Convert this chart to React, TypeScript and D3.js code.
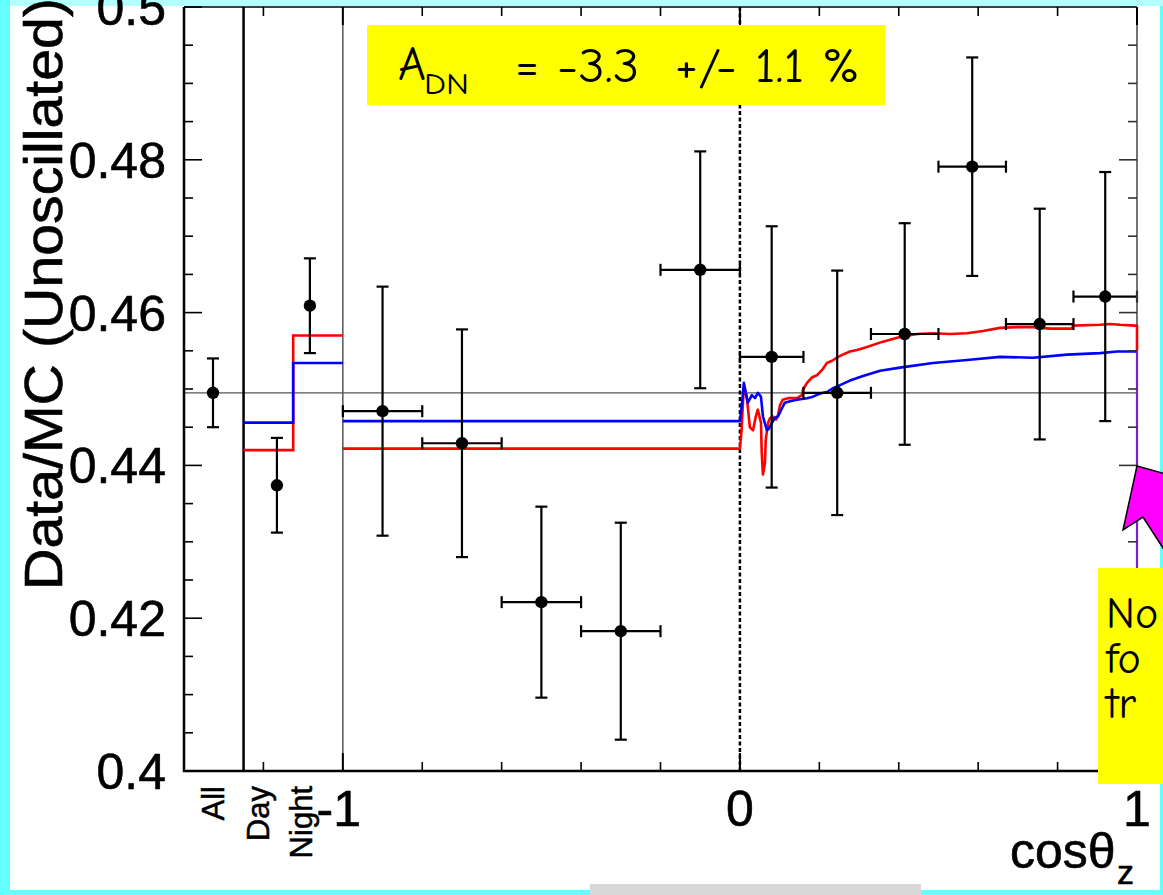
import React from 'react';
import * as d3 from 'd3';

// ---------- data ----------
const yTickValues = [0.4, 0.42, 0.44, 0.46, 0.48, 0.5];
const xTickLabels = [-1, 0, 1];
const xMinorTicks = [-1.2, -0.8, -0.6, -0.4, -0.2, 0.2, 0.4, 0.6, 0.8];

const summaryLabels = ['All', 'Day', 'Night'];
const summaryLabelX = [-1.327, -1.213, -1.105];
const summaryX = [-1.327, -1.166, -1.083];
const summaryY = [0.4495, 0.4374, 0.4609];
const summaryErr = [0.0045, 0.0062, 0.0062];

const binLo = [-1, -0.8, -0.6, -0.4, -0.2, 0, 0.16, 0.33, 0.5, 0.67, 0.84];
const binHi = [-0.8, -0.6, -0.4, -0.2, 0, 0.16, 0.33, 0.5, 0.67, 0.84, 1];
const binX = [-0.9, -0.7, -0.5, -0.3, -0.1, 0.08, 0.245, 0.415, 0.585, 0.755, 0.92];
const binY = [0.4471, 0.4429, 0.4221, 0.4183, 0.4656, 0.4542, 0.4495, 0.4572, 0.4791, 0.4585, 0.4621];
const binErr = [0.0163, 0.0149, 0.0125, 0.0142, 0.0155, 0.0171, 0.016, 0.0145, 0.0143, 0.0151, 0.0163];

const dnEdges = [-1.25, -1.125, -1.0];
const redDN = [0.442, 0.457];
const blueDN = [0.4456, 0.4534];
const dayRed = 0.4422;
const dayBlue = 0.4458;
const allMean = 0.4495;
const sectionLines = [-1.25, -1.0];

const nightRed: [number, number][] = [
  [0, 0.4422], [0.004, 0.4445], [0.010, 0.4505], [0.018, 0.4486], [0.025, 0.445], [0.033, 0.4446],
  [0.040, 0.4464], [0.045, 0.4473], [0.053, 0.4456], [0.055, 0.4416], [0.058, 0.4388], [0.063, 0.4403],
  [0.065, 0.4433], [0.071, 0.4456], [0.076, 0.4462], [0.083, 0.4464], [0.091, 0.446], [0.096, 0.4466],
  [0.101, 0.4479], [0.108, 0.4486], [0.121, 0.4488], [0.144, 0.4488], [0.156, 0.4492], [0.159, 0.4499],
  [0.169, 0.4508], [0.181, 0.4515], [0.194, 0.4518], [0.207, 0.4525], [0.219, 0.4534], [0.232, 0.4537],
  [0.244, 0.4541], [0.259, 0.4545], [0.277, 0.4549], [0.295, 0.4551], [0.320, 0.4555], [0.360, 0.4562],
  [0.403, 0.4568], [0.446, 0.4572], [0.486, 0.4573], [0.529, 0.4572], [0.572, 0.4573], [0.612, 0.4576],
  [0.655, 0.458], [0.698, 0.4581], [0.738, 0.4581], [0.781, 0.4579], [0.836, 0.4579], [0.839, 0.4583],
  [0.907, 0.4584], [0.932, 0.4585], [0.957, 0.4584], [0.995, 0.4583], [1.0, 0.4583], [1.0, 0.4549],
];

const nightBlue: [number, number][] = [
  [0, 0.4458], [0.005, 0.448], [0.010, 0.4508], [0.020, 0.4482], [0.030, 0.4492], [0.038, 0.4488],
  [0.045, 0.4495], [0.053, 0.449], [0.058, 0.4464], [0.068, 0.4446], [0.073, 0.4448], [0.081, 0.4456],
  [0.088, 0.4462], [0.096, 0.4464], [0.106, 0.4475], [0.113, 0.4482], [0.126, 0.4484], [0.144, 0.4486],
  [0.156, 0.4487], [0.169, 0.4488], [0.184, 0.449], [0.202, 0.4494], [0.219, 0.4496], [0.234, 0.4501],
  [0.252, 0.4505], [0.277, 0.4511], [0.310, 0.4517], [0.353, 0.4524], [0.403, 0.4528], [0.486, 0.4534],
  [0.572, 0.4538], [0.655, 0.4542], [0.738, 0.4541], [0.824, 0.4545], [0.907, 0.4547], [0.950, 0.4549],
  [1.0, 0.4549],
];

const sideNote = ['No', 'fo', 'tr'];

// ---------- layout ----------
const W = 1163;
const H = 895;
const L = 184, R = 1137, T = 7, B = 771;
const sans = "'Liberation Sans', Arial, Helvetica, sans-serif";
const comic = "'Comic Sans MS', 'Comic Neue', 'DejaVu Sans', sans-serif";

export default function App() {
  const x = d3.scaleLinear().domain([-1.4, 1]).range([L, R]);
  const y = d3.scaleLinear().domain([0.4, 0.5]).range([B, T]);
  const line = d3.line<[number, number]>().x(d => x(d[0])).y(d => y(d[1]));

  const redStep: [number, number][] = [
    [dnEdges[0], redDN[0]], [dnEdges[1], redDN[0]], [dnEdges[1], redDN[1]], [dnEdges[2], redDN[1]],
  ];
  const blueStep: [number, number][] = [
    [dnEdges[0], blueDN[0]], [dnEdges[1], blueDN[0]], [dnEdges[1], blueDN[1]], [dnEdges[2], blueDN[1]],
  ];
  const redMain: [number, number][] = [[-1, dayRed], ...nightRed];
  const blueMain: [number, number][] = [[-1, dayBlue], ...nightBlue];

  const yMinor = d3.range(0, 21).map(i => 0.4 + i * 0.005);
  const cap = 6;

  return (
    <svg width={W} height={H} style={{ position: 'absolute', left: 0, top: 0, display: 'block' }}>
      {/* background */}
      <rect x={0} y={0} width={W} height={H} fill="#66ffff" />
      <rect x={10} y={0} width={W - 10} height={6} fill="#b3ffff" />
      <rect x={10} y={6} width={1150} height={884} fill="#ffffff" />
      <rect x={590} y={884} width={331} height={11} fill="#d8d8d8" />

      {/* reference lines */}
      <line x1={L} x2={R} y1={y(allMean)} y2={y(allMean)} stroke="#555" strokeWidth={1.3} />
      <line x1={x(sectionLines[0])} x2={x(sectionLines[0])} y1={T} y2={B} stroke="#000" strokeWidth={2.5} />
      <line x1={x(sectionLines[1])} x2={x(sectionLines[1])} y1={T} y2={B} stroke="#555" strokeWidth={1.5} />
      <line x1={x(0)} x2={x(0)} y1={T} y2={B} stroke="#000" strokeWidth={2.5} strokeDasharray="4,2.5" />

      {/* model curves */}
      <path d={line(redStep) || ''} fill="none" stroke="#ff0000" strokeWidth={2.6} />
      <path d={line(blueStep) || ''} fill="none" stroke="#0000ff" strokeWidth={2.6} />
      <path d={line(redMain) || ''} fill="none" stroke="#ff0000" strokeWidth={2.6} strokeLinejoin="round" />
      <path d={line(blueMain) || ''} fill="none" stroke="#0000ff" strokeWidth={2.6} strokeLinejoin="round" />
      <line x1={x(1)} x2={x(1)} y1={y(nightBlue[nightBlue.length - 1][1])} y2={B} stroke="#7a1fd6" strokeWidth={2.2} />

      {/* summary points */}
      {summaryX.map((sx, i) => (
        <g key={'s' + i} stroke="#000" strokeWidth={2.2}>
          <line x1={x(sx)} x2={x(sx)} y1={y(summaryY[i] - summaryErr[i])} y2={y(summaryY[i] + summaryErr[i])} />
          <line x1={x(sx) - cap} x2={x(sx) + cap} y1={y(summaryY[i] - summaryErr[i])} y2={y(summaryY[i] - summaryErr[i])} />
          <line x1={x(sx) - cap} x2={x(sx) + cap} y1={y(summaryY[i] + summaryErr[i])} y2={y(summaryY[i] + summaryErr[i])} />
          <circle cx={x(sx)} cy={y(summaryY[i])} r={6.2} fill="#000" stroke="none" />
        </g>
      ))}

      {/* binned points */}
      {binX.map((bx, i) => (
        <g key={'b' + i} stroke="#000" strokeWidth={2.2}>
          <line x1={x(bx)} x2={x(bx)} y1={y(binY[i] - binErr[i])} y2={y(binY[i] + binErr[i])} />
          <line x1={x(bx) - cap} x2={x(bx) + cap} y1={y(binY[i] - binErr[i])} y2={y(binY[i] - binErr[i])} />
          <line x1={x(bx) - cap} x2={x(bx) + cap} y1={y(binY[i] + binErr[i])} y2={y(binY[i] + binErr[i])} />
          <line x1={x(binLo[i])} x2={x(binHi[i])} y1={y(binY[i])} y2={y(binY[i])} />
          <line x1={x(binLo[i])} x2={x(binLo[i])} y1={y(binY[i]) - cap} y2={y(binY[i]) + cap} />
          <line x1={x(binHi[i])} x2={x(binHi[i])} y1={y(binY[i]) - cap} y2={y(binY[i]) + cap} />
          <circle cx={x(bx)} cy={y(binY[i])} r={6.2} fill="#000" stroke="none" />
        </g>
      ))}

      {/* frame */}
      <line x1={L} x2={R} y1={T} y2={T} stroke="#000" strokeWidth={1.5} />
      <line x1={R} x2={R} y1={T} y2={y(nightRed[nightRed.length - 2][1])} stroke="#444" strokeWidth={1.5} />
      <line x1={L} x2={L} y1={T} y2={B + 1} stroke="#000" strokeWidth={2.5} />
      <line x1={L - 1} x2={R} y1={B} y2={B} stroke="#000" strokeWidth={2.5} />

      {/* y ticks */}
      {yMinor.map((v, i) => {
        const len = i % 4 === 0 ? 18 : 9;
        return (
          <g key={'yt' + i} stroke="#000" strokeWidth={1.6}>
            <line x1={L} x2={L + len} y1={y(v)} y2={y(v)} />
            <line x1={R - len} x2={R} y1={y(v)} y2={y(v)} stroke="#333" />
          </g>
        );
      })}

      {/* x ticks */}
      {xMinorTicks.map((v, i) => (
        <g key={'xt' + i} stroke="#000" strokeWidth={1.6}>
          <line x1={x(v)} x2={x(v)} y1={B} y2={B - 9} />
          <line x1={x(v)} x2={x(v)} y1={T} y2={T + 9} />
        </g>
      ))}
      {xTickLabels.map((v, i) => (
        <g key={'xM' + i} stroke="#000" strokeWidth={2}>
          <line x1={x(v)} x2={x(v)} y1={B} y2={B - 18} />
          <line x1={x(v)} x2={x(v)} y1={T} y2={T + 18} />
        </g>
      ))}

      {/* y tick labels */}
      {yTickValues.map((v, i) => (
        <text key={'yl' + i} x={166} y={y(v)} dy="0.36em" textAnchor="end" fontFamily={sans} fontSize={50} fill="#000"
          stroke="#000" strokeWidth={0.6}>
          {d3.format('~g')(v)}
        </text>
      ))}

      {/* x tick labels */}
      {xTickLabels.map((v, i) => (
        <text key={'xl' + i} x={x(v) - (v < 0 ? 4 : 0)} y={826} textAnchor="middle" fontFamily={sans} fontSize={50} fill="#000"
          stroke="#000" strokeWidth={0.6}>
          {String(v)}
        </text>
      ))}

      {/* summary labels */}
      {summaryLabels.map((s, i) => (
        <text key={'sl' + i} transform={`translate(${x(summaryLabelX[i]) + 11},786) rotate(-90)`} textAnchor="end"
          fontFamily={sans} fontSize={31} fill="#000" stroke="#000" strokeWidth={0.5}>{s}</text>
      ))}

      {/* axis titles */}
      <text transform="translate(62,294) rotate(-90)" textAnchor="middle" fontFamily={sans} fontSize={53}
        textLength={592} lengthAdjust="spacingAndGlyphs" fill="#000" stroke="#000" strokeWidth={0.6}>Data/MC (Unoscillated)</text>
      <text x={1010} y={868} fontFamily={sans} fontSize={50} fill="#000" stroke="#000" strokeWidth={0.6}>cosθ</text>
      <text x={1117} y={884} fontFamily={sans} fontSize={34} fill="#000" stroke="#000" strokeWidth={0.5}>z</text>

      {/* annotation box */}
      <rect x={367} y={25} width={518} height={80} fill="#ffff00" />
      <text x={398} y={80} fontFamily={comic} fontSize={48} fill="#000">A</text>
      <text x={424} y={94} fontFamily={comic} fontSize={30} textLength={45} lengthAdjust="spacingAndGlyphs" fill="#000">DN</text>
      <text x={515} y={82} fontFamily={comic} fontSize={48} textLength={345} lengthAdjust="spacingAndGlyphs" fill="#000" xmlSpace="preserve">= -3.3  +/- 1.1 %</text>

      {/* arrow and side note */}
      <polygon points="1137,466 1180,478 1180,572 1163,548 1143,517 1123,530" fill="#ff00ff" stroke="#000" strokeWidth={1.5} strokeLinejoin="miter" />
      <rect x={1098} y={568} width={70} height={216} fill="#ffff00" />
      {sideNote.map((s, i) => (
        <text key={'n' + i} x={1106} y={628 + i * 45} fontFamily={comic} fontSize={44} fill="#000">{s}</text>
      ))}
    </svg>
  );
}
